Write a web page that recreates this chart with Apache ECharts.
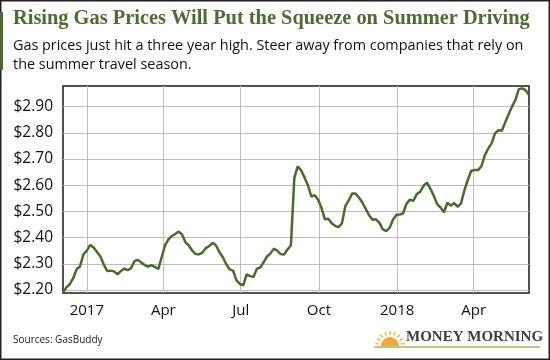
<!DOCTYPE html>
<html>
<head>
<meta charset="utf-8">
<script src="https://cdn.jsdelivr.net/npm/echarts@6/dist/echarts.min.js"></script>
<style>
html,body{margin:0;padding:0;background:#fff;}
#chart{width:550px;height:360px;}
</style>
</head>
<body>
<div id="chart"></div>
<script>
// ---- data ----
const titleText = 'Rising Gas Prices Will Put the Squeeze on Summer Driving';
const subtitleLines = ['Gas prices just hit a three year high. Steer away from companies that rely on', 'the summer travel season.'];
const sourceText = 'Sources: GasBuddy';
const startDate = [2016, 11, 4];   // 4 Dec 2016
const stepDays = 4;
const prices = [
  2.19, 2.21, 2.222, 2.245, 2.279, 2.29, 2.336, 2.35, 2.372, 2.362,
  2.345, 2.328, 2.297, 2.272, 2.274, 2.271, 2.26, 2.272, 2.282, 2.276,
  2.283, 2.31, 2.315, 2.305, 2.295, 2.289, 2.295, 2.288, 2.28, 2.325,
  2.37, 2.393, 2.406, 2.414, 2.423, 2.412, 2.382, 2.37, 2.35, 2.337,
  2.336, 2.343, 2.36, 2.368, 2.38, 2.37, 2.344, 2.325, 2.298, 2.279,
  2.274, 2.237, 2.223, 2.218, 2.26, 2.253, 2.25, 2.281, 2.286, 2.307,
  2.328, 2.34, 2.358, 2.35, 2.337, 2.335, 2.355, 2.37, 2.627, 2.672,
  2.657, 2.63, 2.6, 2.557, 2.562, 2.545, 2.513, 2.47, 2.472, 2.455,
  2.445, 2.44, 2.455, 2.52, 2.542, 2.568, 2.568, 2.553, 2.534, 2.51,
  2.485, 2.468, 2.47, 2.457, 2.432, 2.425, 2.437, 2.468, 2.487, 2.488,
  2.493, 2.53, 2.545, 2.54, 2.566, 2.575, 2.598, 2.61, 2.587, 2.56,
  2.528, 2.515, 2.497, 2.533, 2.522, 2.532, 2.518, 2.53, 2.58, 2.62,
  2.655, 2.658, 2.658, 2.672, 2.714, 2.74, 2.76, 2.798, 2.81, 2.808,
  2.84, 2.871, 2.9, 2.925, 2.967, 2.97, 2.963, 2.945
];
const yTicks = [2.2, 2.3, 2.4, 2.5, 2.6, 2.7, 2.8, 2.9];
const xTickDates = [[2017,0,1],[2017,3,1],[2017,6,1],[2017,9,1],[2018,0,1],[2018,3,1]];
const xTickLabels = ['2017', 'Apr', 'Jul', 'Oct', '2018', 'Apr'];
const xRange = [[2016,11,4],[2018,5,5]];
const yRange = [2.1885, 2.979];

// ---- build ----
const ts = d => Date.UTC(d[0], d[1], d[2]);
const seriesData = prices.map((v, i) => {
  return [Date.UTC(startDate[0], startDate[1], startDate[2] + i * stepDays), v];
});
const xTickVals = xTickDates.map(ts);
const labelMap = {};
xTickVals.forEach((t, i) => { labelMap[t] = xTickLabels[i]; });

const green = '#4a6b2e';
const sansFont = 'Open Sans';

const chart = echarts.init(document.getElementById('chart'), null, {renderer: 'canvas'});
chart.setOption({
  animation: false,
  backgroundColor: '#fff',
  grid: {left: 63, right: 21, top: 86, bottom: 67, show: true, borderColor: '#1a1a1a', borderWidth: 1.5, containLabel: false},
  xAxis: {
    type: 'value',
    min: ts(xRange[0]), max: ts(xRange[1]),
    axisLine: {show: false},
    axisTick: {show: false, customValues: xTickVals},
    axisLabel: {customValues: xTickVals, formatter: v => labelMap[v] || '', color: '#111', fontFamily: sansFont, fontSize: 15, margin: 10, showMinLabel: true, showMaxLabel: true},
    splitLine: {show: true, lineStyle: {color: '#bdbdbd', width: 1}}
  },
  yAxis: {
    type: 'value',
    min: yRange[0], max: yRange[1],
    axisLine: {show: false},
    axisTick: {show: false, customValues: yTicks},
    axisLabel: {customValues: yTicks, formatter: v => '$' + v.toFixed(2), color: '#111', fontFamily: sansFont, fontSize: 15.5, margin: 10},
    splitLine: {show: true, lineStyle: {color: '#bdbdbd', width: 1}}
  },
  series: [{
    type: 'line',
    data: seriesData,
    showSymbol: false,
    symbol: 'none',
    lineStyle: {color: green, width: 2.5},
    z: 5
  }],
  graphic: [
    {type: 'rect', shape: {x: 0.75, y: 0.75, width: 548.5, height: 358.5}, style: {fill: 'none', stroke: '#222', lineWidth: 1.5}, silent: true},
    {type: 'rect', shape: {x: 0, y: 12, width: 3, height: 58}, style: {fill: '#4a6b2e'}},
    {type: 'text', left: 13, top: 9, style: {text: titleText, fill: '#4d6b33', font: 'bold 20.4px "Liberation Serif", serif'}},
    {type: 'text', left: 13, top: 36, style: {text: subtitleLines.join('\n'), fill: '#111', font: '14.4px "' + sansFont + '", sans-serif', lineHeight: 19}},
    {type: 'text', left: 13, top: 335, style: {text: sourceText, fill: '#222', font: '10px "' + sansFont + '", sans-serif'}},
    {type: 'sector', shape: {cx: 390, cy: 346, r0: 0, r: 9, startAngle: Math.PI, endAngle: Math.PI * 2, clockwise: true}, style: {fill: '#f2a73b'}},
    {type: 'group', children: [0,1,2,3,4,5,6,7,8].map(k => {
      const a = Math.PI + (k + 0.5) * Math.PI / 9;
      return {type: 'line', shape: {x1: 390 + Math.cos(a) * 11, y1: 346 + Math.sin(a) * 11, x2: 390 + Math.cos(a) * 15, y2: 346 + Math.sin(a) * 15}, style: {stroke: '#f0b64a', lineWidth: 1.5}};
    })},
    {type: 'line', shape: {x1: 374, y1: 347, x2: 540, y2: 347}, style: {stroke: '#9bbb59', lineWidth: 1.5}},
    {type: 'text', left: 406, top: 330, style: {text: 'MONEY MORNING', fill: '#3d3d3d', font: 'bold 15px "Liberation Serif", serif'}}
  ]
});
</script>
</body>
</html>
